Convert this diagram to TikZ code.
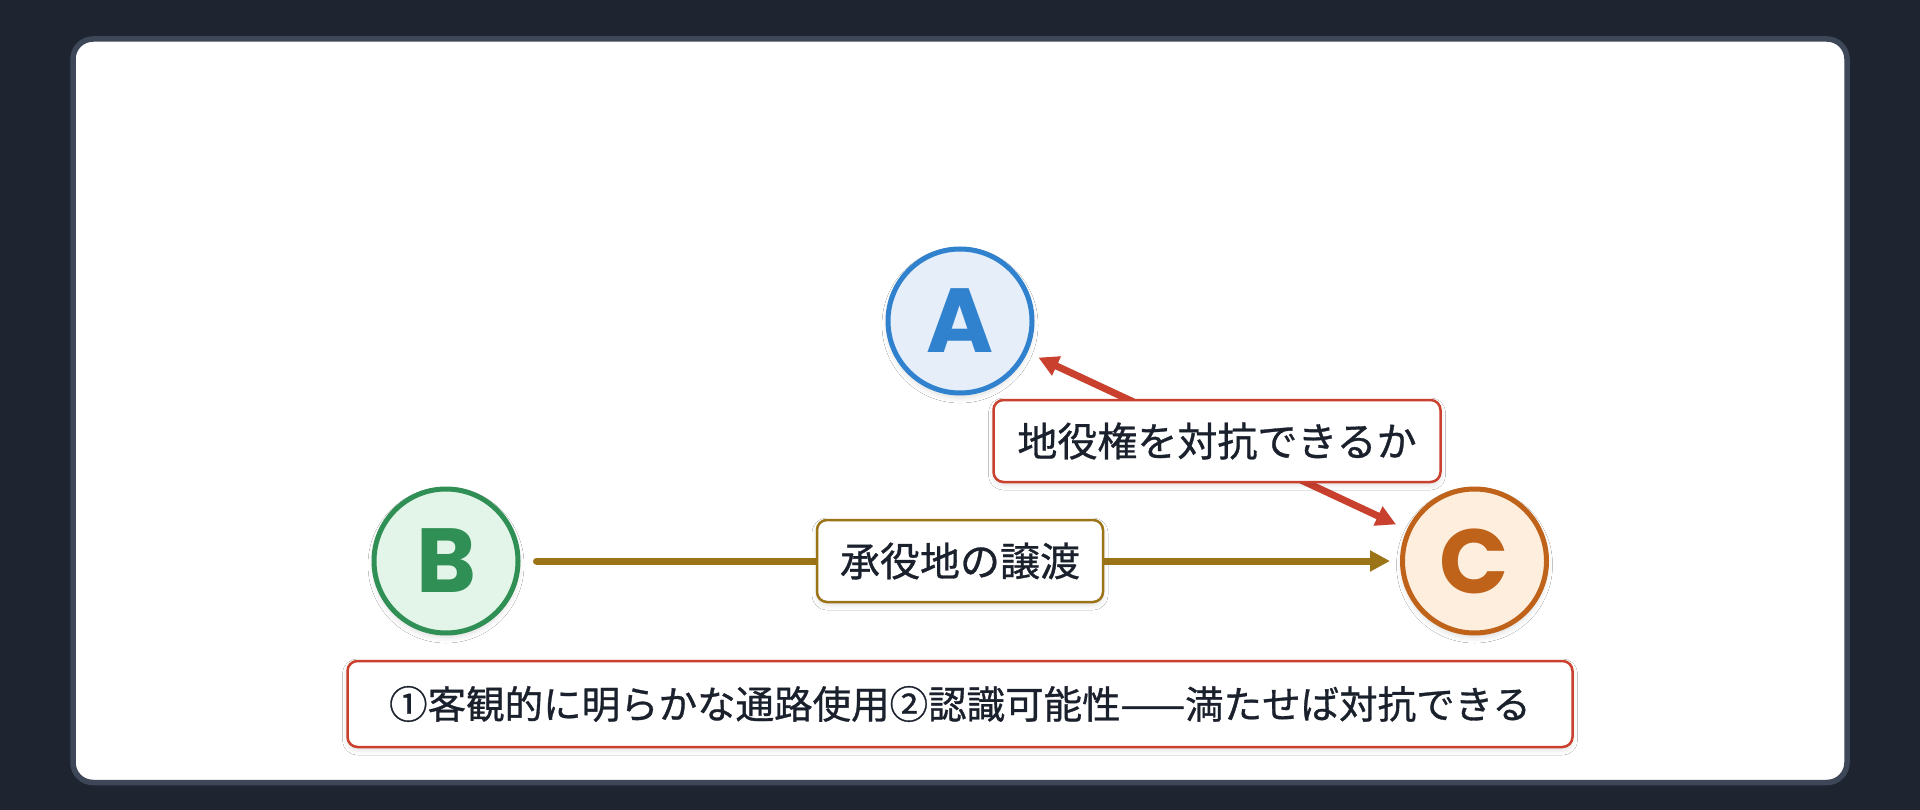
\documentclass[tikz,border=0pt]{standalone}
\usepackage{fontspec}
\setmainfont{Noto Sans CJK JP}[FakeBold=0.8]
\newfontfamily\jpfont{Noto Sans CJK JP}[FakeBold=0.8]
\newfontfamily\letfont{Poppins}
\usetikzlibrary{arrows.meta,shadows.blur}
\definecolor{bgc}{HTML}{1E2530}
\definecolor{cardb}{HTML}{3D4757}
\definecolor{blueA}{HTML}{3182CE}
\definecolor{blueF}{HTML}{E5EEF9}
\definecolor{greenB}{HTML}{2F8F55}
\definecolor{greenF}{HTML}{E3F5E8}
\definecolor{orangeC}{HTML}{C0631A}
\definecolor{orangeF}{HTML}{FDEEDE}
\definecolor{redc}{HTML}{C9402E}
\definecolor{goldc}{HTML}{9C7418}
\definecolor{textc}{HTML}{1A202C}
\tikzset{
  circ/.style={circle, minimum size=144pt, inner sep=0pt, line width=5pt,
    font=\letfont\bfseries\fontsize{91}{91}\selectfont,
    blur shadow={shadow xshift=0pt, shadow yshift=-4pt, shadow blur radius=6pt, shadow opacity=15}},
  labbox/.style={rectangle, rounded corners=10pt, line width=2.5pt, fill=white,
    text=textc, inner sep=0pt, font=\jpfont\fontsize{40}{40}\selectfont,
    blur shadow={shadow xshift=0pt, shadow yshift=-3pt, shadow blur radius=5pt, shadow opacity=12}},
  conn/.style={line width=7pt, line cap=round}
}
\begin{document}
\begin{tikzpicture}[x=1pt,y=-1pt]
\useasboundingbox (0,0) rectangle (1920,810);
\fill[bgc] (0,0) rectangle (1920,810);
\draw[cardb, line width=5.5pt, fill=white, rounded corners=20pt] (73,39) rectangle (1847,782.5);

\node[circ, draw=blueA, fill=blueF, text=blueA] (A) at (960,321) {A};
\node[circ, draw=greenB, fill=greenF, text=greenB] (B) at (446,561) {B};
\node[circ, draw=orangeC, fill=orangeF, text=orangeC] (C) at (1474.5,561) {C};

\draw[conn, draw=goldc, -{Triangle[length=20pt,width=20pt]}, shorten <=16pt, shorten >=10pt] (B) -- (C);
\draw[conn, draw=redc, {Triangle[length=20pt,width=20pt]}-{Triangle[length=20pt,width=20pt]}, shorten <=12pt, shorten >=12pt] (A) -- (C);

\node[labbox, draw=goldc, minimum width=286pt, minimum height=82pt] (L1) at (960,561) {承役地の譲渡};
\node[labbox, draw=redc, minimum width=447pt, minimum height=82pt] (L2) at (1217,441) {地役権を対抗できるか};
\node[labbox, draw=redc, minimum width=1225pt, minimum height=86pt, font=\jpfont\fontsize{38.5}{38.5}\selectfont] (N) at (960,704) {①客観的に明らかな通路使用②認識可能性——満たせば対抗できる};
\end{tikzpicture}
\end{document}
